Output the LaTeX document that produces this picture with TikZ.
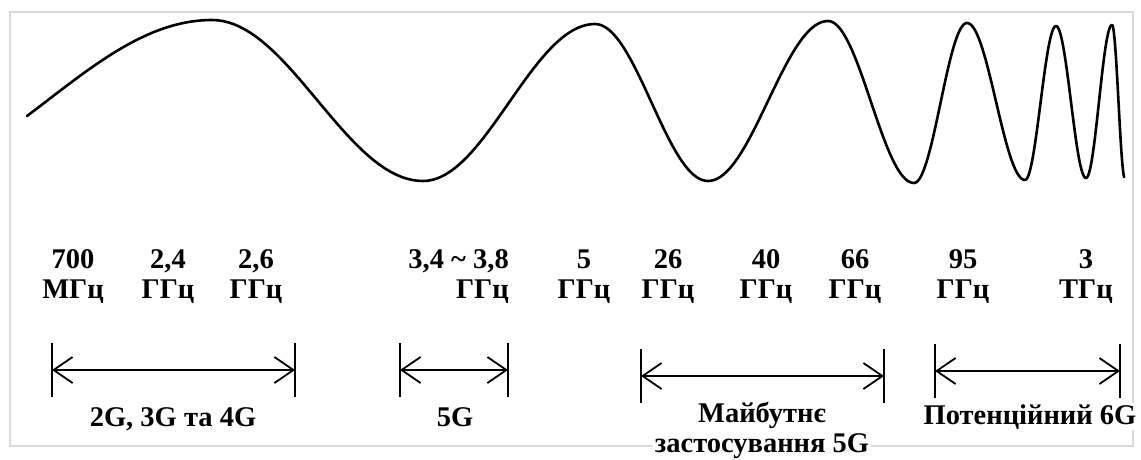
\documentclass[tikz,border=0pt]{standalone}
\usepackage{fontspec}
\setmainfont{Liberation Serif}
\usetikzlibrary{arrows.meta}
\begin{document}
\begin{tikzpicture}[x=1pt,y=-1pt,
  lbl/.style={font=\fontsize{28.5}{32}\selectfont\bfseries, inner sep=0pt},
  wave/.style={line width=2.6pt, line cap=round, line join=round},
  bar/.style={line width=2.4pt},
  span/.style={line width=1.8pt, {Straight Barb[length=19pt,width=26pt]}-{Straight Barb[length=19pt,width=26pt]}}
]
\useasboundingbox (0,0) rectangle (1141,459);
\draw[gray!30, line width=1.5pt] (10,12) rectangle (1133,446);

% wave
\draw[wave] plot[domain=0.4383:1,samples=50] ({-117.3+(212+117.3)*\x},{100.5+80.5*cos(180*\x)});
\foreach \xa/\ya/\xb/\yb in {212/20/423/181, 423/181/595/24, 595/24/708/181, 708/181/828/21, 828/21/914/183, 914/183/967/23, 967/23/1025/180, 1025/180/1056/26, 1056/26/1086/178, 1086/178/1112/25}
  \draw[wave] plot[domain=0:1,samples=40] ({\xa+(\xb-\xa)*\x},{(\ya+\yb)/2+(\ya-\yb)/2*cos(180*\x)});
\draw[wave] plot[domain=0:0.93,samples=30] ({1112+13*\x},{102-77*cos(180*\x)});

% frequency labels
\node[lbl, anchor=base] (n700) at (73,268) {700};
\node[lbl, anchor=base] (u700) at (73,298) {МГц};
\node[lbl, anchor=base] (n24) at (168,268) {2,4};
\node[lbl, anchor=base] (u24) at (168,298) {ГГц};
\node[lbl, anchor=base] (n26) at (256,268) {2,6};
\node[lbl, anchor=base] (u26) at (256,298) {ГГц};
\node[lbl, anchor=base east] (n34) at (509,268) {3,4 \textasciitilde\ 3,8};
\node[lbl, anchor=base east] (u34) at (509,298) {ГГц};
\node[lbl, anchor=base] (n5) at (584,268) {5};
\node[lbl, anchor=base] (u5) at (584,298) {ГГц};
\node[lbl, anchor=base] (n26g) at (668,268) {26};
\node[lbl, anchor=base] (u26g) at (668,298) {ГГц};
\node[lbl, anchor=base] (n40) at (766,268) {40};
\node[lbl, anchor=base] (u40) at (766,298) {ГГц};
\node[lbl, anchor=base] (n66) at (855,268) {66};
\node[lbl, anchor=base] (u66) at (855,298) {ГГц};
\node[lbl, anchor=base] (n95) at (963,268) {95};
\node[lbl, anchor=base] (u95) at (963,298) {ГГц};
\node[lbl, anchor=base] (n3t) at (1086,268) {3};
\node[lbl, anchor=base] (u3t) at (1086,298) {ТГц};

% spans
\coordinate (s1l) at (52,370);  \coordinate (s1r) at (295,370);
\coordinate (s2l) at (400,370); \coordinate (s2r) at (508,370);
\coordinate (s3l) at (641,376); \coordinate (s3r) at (884,376);
\coordinate (s4l) at (935,371); \coordinate (s4r) at (1120,371);
\foreach \c in {s1l,s1r,s2l,s2r,s3l,s3r,s4l,s4r}
  \draw[bar] ([yshift=27pt]\c) -- ([yshift=-27pt]\c);
\draw[span] (s1l) -- (s1r);
\draw[span] (s2l) -- (s2r);
\draw[span] (s3l) -- (s3r);
\draw[span] (s4l) -- (s4r);

% generation labels
\node[lbl, anchor=base] (g1) at (173,426) {2G, 3G та 4G};
\node[lbl, anchor=base] (g2) at (455,426) {5G};
\node[lbl, anchor=base] (g3a) at (762,422) {Майбутнє};
\node[lbl, anchor=base, fill=white, inner sep=2pt] (g3b) at (762,452) {застосування 5G};
\node[lbl, anchor=base, fill=white, inner sep=1pt] (g4) at (1030,424) {Потенційний 6G};
\end{tikzpicture}
\end{document}
